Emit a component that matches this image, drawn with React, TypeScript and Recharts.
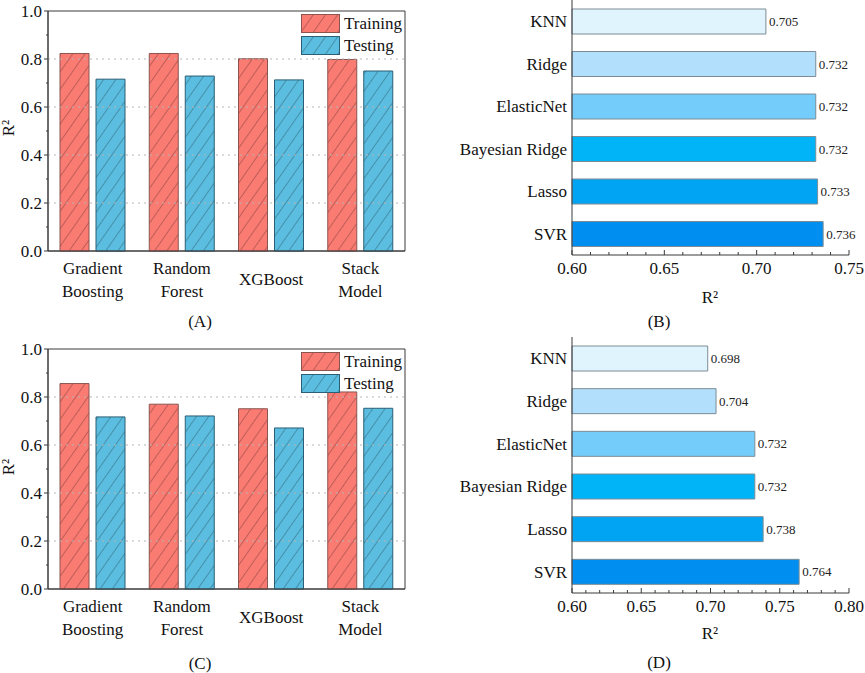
import React from "react";
import {
  BarChart,
  Bar,
  XAxis,
  YAxis,
  Cell,
  LabelList,
  Legend,
  ReferenceLine,
  ReferenceArea,
} from "recharts";

const FONT = '"Liberation Serif", "Times New Roman", serif';
const AXIS = "#3a3a3a";

// panels A and C
const MODELS = ["Gradient\nBoosting", "Random\nForest", "XGBoost", "Stack\nModel"];
const TRAIN_A = [0.823, 0.823, 0.801, 0.798];
const TEST_A = [0.716, 0.729, 0.713, 0.75];
const TRAIN_C = [0.856, 0.77, 0.751, 0.821];
const TEST_C = [0.717, 0.721, 0.671, 0.753];
const Y_TICKS = [0, 0.1, 0.2, 0.3, 0.4, 0.5, 0.6, 0.7, 0.8, 0.9, 1.0];
const GRID_Y = [0.2, 0.4, 0.6, 0.8];

// panels B and D
const REGRESSORS = ["KNN", "Ridge", "ElasticNet", "Bayesian Ridge", "Lasso", "SVR"];
const R2_B = [0.705, 0.732, 0.732, 0.732, 0.733, 0.736];
const R2_D = [0.698, 0.704, 0.732, 0.732, 0.738, 0.764];
const BLUES = ["#e0f4fd", "#b2dffb", "#73ccfa", "#00b4f7", "#00a4f2", "#008ff0"];
const X_TICKS_B = [
  0.6, 0.61, 0.62, 0.63, 0.64, 0.65, 0.66, 0.67, 0.68, 0.69, 0.7, 0.71, 0.72, 0.73,
  0.74, 0.75,
];
const X_TICKS_D = [
  0.6, 0.61, 0.62, 0.63, 0.64, 0.65, 0.66, 0.67, 0.68, 0.69, 0.7, 0.71, 0.72, 0.73,
  0.74, 0.75, 0.76, 0.77, 0.78, 0.79, 0.8,
];

const SERIES = [
  { key: "training", label: "Training", fill: "#fa7b72", stroke: "#8a5550" },
  { key: "testing", label: "Testing", fill: "#5bbde0", stroke: "#2a5f75" },
];

function HatchDefs({ id }: { id: string }) {
  return (
    <defs>
      {SERIES.map((s) => (
        <pattern
          key={s.key}
          id={`${id}-${s.key}`}
          patternUnits="userSpaceOnUse"
          width={10}
          height={10}
          patternTransform="rotate(35)"
        >
          <rect width={10} height={10} fill={s.fill} />
          <line x1={0} y1={0} x2={0} y2={10} stroke="#000" strokeOpacity={0.4} strokeWidth={1.2} />
        </pattern>
      ))}
    </defs>
  );
}

function LeftTick({ x, y, payload }: any) {
  const major = Math.round(payload.value * 10) % 2 === 0;
  return (
    <g>
      <line x1={x} x2={x - (major ? 4 : 2)} y1={y} y2={y} stroke={AXIS} />
      {major && (
        <text x={x - 6} y={y} dy="0.34em" textAnchor="end" fontFamily={FONT} fontSize={17} fill="#111">
          {payload.value.toFixed(1)}
        </text>
      )}
    </g>
  );
}

function CategoryTick({ x, y, payload }: any) {
  const lines = String(payload.value).split("\n");
  const first = lines.length === 1 ? 34 : 23;
  return (
    <text textAnchor="middle" fontFamily={FONT} fontSize={17} fill="#111">
      {lines.map((l, i) => (
        <tspan key={i} x={x} y={y + first + i * 23}>
          {l}
        </tspan>
      ))}
    </text>
  );
}

function BottomTick({ x, y, payload }: any) {
  const major = Math.round(payload.value * 100) % 5 === 0;
  return (
    <g>
      <line x1={x} x2={x} y1={y} y2={y - (major ? 5 : 3)} stroke={AXIS} />
      {major && (
        <text x={x} y={y + 19} textAnchor="middle" fontFamily={FONT} fontSize={17} fill="#111">
          {payload.value.toFixed(2)}
        </text>
      )}
    </g>
  );
}

function HatchLegend({ id }: { id: string }) {
  return (
    <div style={{ fontFamily: FONT, fontSize: 17, color: "#111" }}>
      {SERIES.map((s) => (
        <div key={s.key} style={{ display: "flex", alignItems: "center", height: 21.4 }}>
          <svg width={39} height={19} style={{ display: "block" }}>
            <rect x={0.5} y={0.5} width={38} height={18} fill={`url(#${id}-${s.key})`} stroke={s.stroke} />
          </svg>
          <span style={{ marginLeft: 4, lineHeight: "19px" }}>{s.label}</span>
        </div>
      ))}
    </div>
  );
}

function GroupedPanel(props: {
  id: string;
  train: number[];
  test: number[];
  height: number;
  top: number;
  axisHeight: number;
  legendTop: number;
  labelY: number;
}) {
  const { id, train, test, height, top, axisHeight, legendTop, labelY } = props;
  const data = MODELS.map((m, i) => ({ model: m, training: train[i], testing: test[i] }));
  return (
    <BarChart
      width={430}
      height={height}
      data={data}
      margin={{ top, right: 25, bottom: 0, left: 8 }}
      barGap={7}
      barSize={29}
    >
      <HatchDefs id={id} />
      {GRID_Y.map((g) => (
        <ReferenceLine key={g} y={g} stroke="#b5b5b5" strokeDasharray="2 4" />
      ))}
      <XAxis
        dataKey="model"
        height={axisHeight}
        tick={<CategoryTick />}
        tickLine={false}
        tickSize={0}
        tickMargin={0}
        interval={0}
        axisLine={{ stroke: AXIS }}
      />
      <YAxis
        width={40}
        domain={[0, 1]}
        ticks={Y_TICKS}
        interval={0}
        tick={<LeftTick />}
        tickLine={false}
        tickSize={0}
        tickMargin={0}
        axisLine={{ stroke: AXIS }}
        label={{
          content: () => (
            <text
              x={14}
              y={labelY}
              transform={`rotate(-90 14 ${labelY})`}
              textAnchor="middle"
              fontFamily={FONT}
              fontSize={17}
              fill="#111"
            >
              R²
            </text>
          ),
        }}
      />
      {SERIES.map((s) => (
        <Bar
          key={s.key}
          dataKey={s.key}
          name={s.label}
          fill={`url(#${id}-${s.key})`}
          stroke={s.stroke}
          strokeWidth={1}
          isAnimationActive={false}
        />
      ))}
      <ReferenceArea y1={0} y2={1} fill="none" stroke={AXIS} strokeWidth={1} />
      <Legend
        layout="horizontal"
        verticalAlign="middle"
        align="center"
        wrapperStyle={{ top: legendTop, left: 301, width: 115 }}
        content={() => <HatchLegend id={id} />}
      />
    </BarChart>
  );
}

function ScorePanel(props: {
  values: number[];
  height: number;
  top: number;
  axisHeight: number;
  max: number;
  ticks: number[];
  labelY: number;
}) {
  const { values, height, top, axisHeight, max, ticks, labelY } = props;
  const data = REGRESSORS.map((name, i) => ({ name, r2: values[i] }));
  return (
    <BarChart
      layout="vertical"
      width={435}
      height={height}
      data={data}
      margin={{ top, right: 16, bottom: 0, left: 0 }}
      barSize={25}
    >
      <XAxis
        type="number"
        domain={[0.6, max]}
        ticks={ticks}
        interval={0}
        height={axisHeight}
        tick={<BottomTick />}
        tickLine={false}
        tickSize={0}
        tickMargin={0}
        axisLine={{ stroke: AXIS }}
        label={{
          content: () => (
            <text x={280} y={labelY} textAnchor="middle" fontFamily={FONT} fontSize={17} fill="#111">
              R²
            </text>
          ),
        }}
      />
      <YAxis
        type="category"
        dataKey="name"
        width={142}
        tickLine={false}
        tickSize={0}
        tickMargin={5}
        interval={0}
        axisLine={{ stroke: AXIS }}
        tick={{ fill: "#111", fontSize: 17, fontFamily: FONT }}
      />
      <Bar dataKey="r2" stroke="#7d8c96" strokeWidth={1} isAnimationActive={false}>
        {data.map((d, i) => (
          <Cell key={d.name} fill={BLUES[i]} />
        ))}
        <LabelList
          dataKey="r2"
          position="right"
          offset={3}
          fill="#222"
          fontSize={13}
          fontFamily={FONT}
          formatter={(v: any) => Number(v).toFixed(3)}
        />
      </Bar>
    </BarChart>
  );
}

function Caption({ text, x, y }: { text: string; x: number; y: number }) {
  return (
    <div
      style={{
        position: "absolute",
        left: x - 30,
        top: y - 10,
        width: 60,
        textAlign: "center",
        fontFamily: FONT,
        fontSize: 17,
        lineHeight: "20px",
        color: "#111",
      }}
    >
      {text}
    </div>
  );
}

export default function App() {
  return (
    <div
      style={{
        position: "absolute",
        left: 0,
        top: 0,
        width: 865,
        height: 673,
        background: "#fff",
        overflow: "hidden",
      }}
    >
      <div style={{ position: "absolute", left: 0, top: 0 }}>
        <GroupedPanel
          id="hA"
          train={TRAIN_A}
          test={TEST_A}
          height={330}
          top={11}
          axisHeight={79}
          legendTop={13}
          labelY={128}
        />
      </div>
      <div style={{ position: "absolute", left: 430, top: 0 }}>
        <ScorePanel values={R2_B} height={330} top={0} axisHeight={75} max={0.75} ticks={X_TICKS_B} labelY={303} />
      </div>
      <div style={{ position: "absolute", left: 0, top: 330 }}>
        <GroupedPanel
          id="hC"
          train={TRAIN_C}
          test={TEST_C}
          height={343}
          top={19}
          axisHeight={84}
          legendTop={21}
          labelY={137}
        />
      </div>
      <div style={{ position: "absolute", left: 430, top: 330 }}>
        <ScorePanel values={R2_D} height={343} top={7} axisHeight={80} max={0.8} ticks={X_TICKS_D} labelY={309} />
      </div>
      <Caption text="(A)" x={200} y={322} />
      <Caption text="(B)" x={659} y={322} />
      <Caption text="(C)" x={200} y={664} />
      <Caption text="(D)" x={659} y={663} />
    </div>
  );
}
